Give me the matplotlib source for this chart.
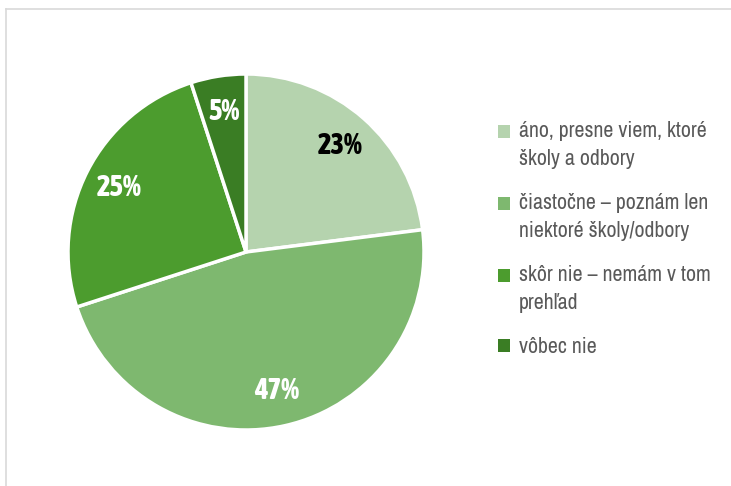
import matplotlib
matplotlib.use("Agg")
import matplotlib.pyplot as plt
from matplotlib.lines import Line2D
from matplotlib.patches import Patch, Rectangle
from matplotlib.legend_handler import HandlerPatch
from matplotlib import font_manager
from matplotlib.font_manager import FontProperties

fonts = font_manager.fontManager.ttflist
cond = [f for f in fonts if ('Condensed' in f.name or 'Narrow' in f.name) and f.style == 'normal']


def wnum(w):
    if isinstance(w, int):
        return w
    return font_manager.weight_dict.get(w, 400)


def pick(target):
    if not cond:
        return FontProperties(family='DejaVu Sans', weight=target)
    best = min(cond, key=lambda f: (abs(wnum(f.weight) - target), f.name))
    return FontProperties(fname=best.fname)


reg_fp = pick(400)
bold_fp = pick(800)

categories = ["áno, presne viem, ktoré\nškoly a odbory",
              "čiastočne – poznám len\nniektoré školy/odbory",
              "skôr nie – nemám v tom\nprehľad",
              "vôbec nie"]
values = [23, 47, 25, 5]
colors = ["#b5d3ae", "#7eb86f", "#4c9c2e", "#3a7d24"]
label_colors = ["black", "white", "white", "white"]

W, H = 731, 486
fig = plt.figure(figsize=(W/100, H/100), dpi=100)
cx, cy, R = 246, 252, 178
ax = fig.add_axes([(cx-R)/W, (H-cy-R)/H, 2*R/W, 2*R/H])
wedges, texts, autotexts = ax.pie(values, colors=colors, startangle=90, counterclock=False,
                                  autopct=lambda p: f"{p:.0f}%", pctdistance=0.8,
                                  wedgeprops=dict(edgecolor="white", linewidth=2.5))
ax.set_xlim(-1, 1)
ax.set_ylim(-1, 1)
ax.set_aspect("equal")

renderer = fig.canvas.get_renderer()
for t, c in zip(autotexts, label_colors):
    t.set_color(c)
    t.set_fontproperties(bold_fp)
t0 = autotexts[0]
t0.set_fontsize(10)
w10 = t0.get_window_extent(renderer).width
pfs = 10 * 45 / w10
for t in autotexts:
    t.set_fontsize(pfs)

probe = fig.text(0, 0, categories[0].split("\n")[0], fontproperties=reg_fp, fontsize=10)
wl = probe.get_window_extent(renderer).width
probe.remove()
lfs = 10 * 189 / wl
line_px = lfs * 100 / 72


class TopHandler(HandlerPatch):
    def __init__(self, nlines, **kw):
        super().__init__(**kw)
        self.nlines = nlines

    def create_artists(self, legend, orig_handle, xdescent, ydescent, width, height, fontsize, trans):
        shift = (self.nlines - 1) * 27 * 72 / 100 / 2
        p = Rectangle((-xdescent, -ydescent + shift), width, height,
                      facecolor=orig_handle.get_facecolor(), edgecolor="none", transform=trans)
        return [p]


handles = [Patch(facecolor=c, edgecolor="none") for c in colors]
hmap = {h: TopHandler(lab.count("\n") + 1) for h, lab in zip(handles, categories)}
lp = reg_fp.copy()
lp.set_size(lfs)
leg = fig.legend(handles, categories, loc="upper left", bbox_to_anchor=(498/W, 1-121/H),
                 frameon=False, prop=lp, handlelength=0.55, handleheight=0.55,
                 handletextpad=0.4, labelspacing=1.1, labelcolor="#595959",
                 borderpad=0, borderaxespad=0, handler_map=hmap)
for t in leg.get_texts():
    t.set_linespacing(27 / line_px * 27 / 24 * 27 / 25)

fig.add_artist(Line2D([5.5/W, 5.5/W], [0, 1-9/H], color="#d9d9d9", lw=1.2, transform=fig.transFigure))
fig.add_artist(Line2D([5.5/W, 1], [1-9/H, 1-9/H], color="#d9d9d9", lw=1.2, transform=fig.transFigure))

fig.savefig("out.png", dpi=100, facecolor="white")
